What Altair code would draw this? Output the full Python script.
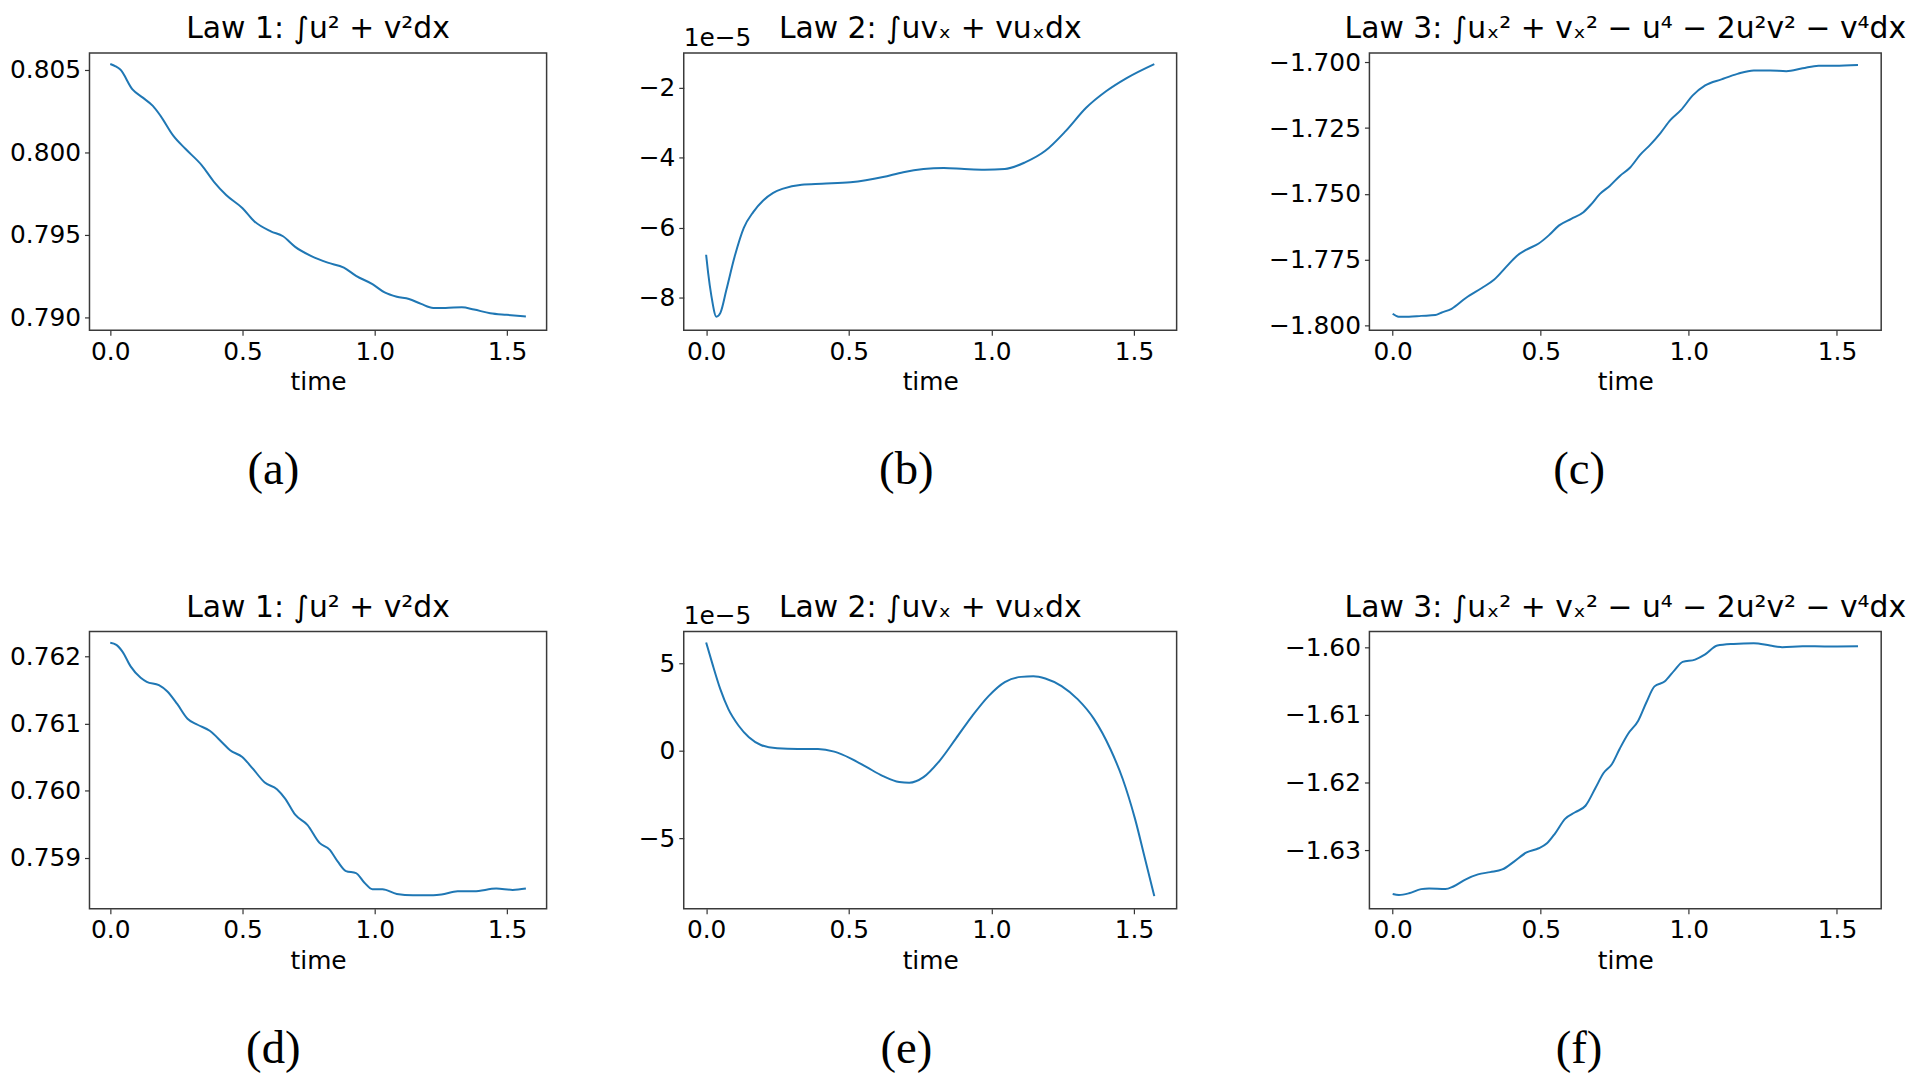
import altair as alt
import pandas as pd

FONT = "DejaVu Sans"
BLUE = "#1f77b4"
H = 279
CAP_Y = 420

X_DOMAIN = [-0.0785, 1.6493]
X_TICKS = [0.0, 0.5, 1.0, 1.5]

# ---- data ----
a_t = [0, 0.02, 0.038, 0.084, 0.123, 0.161, 0.19, 0.238, 0.284, 0.346, 0.392, 0.438, 0.5, 0.545,
       0.607, 0.653, 0.699, 0.76, 0.822, 0.883, 0.929, 0.991, 1.037, 1.083, 1.129, 1.175, 1.221,
       1.267, 1.329, 1.375, 1.436, 1.498, 1.571]
a_v = [0.80534, 0.80520, 0.80500, 0.80380, 0.80330, 0.80280, 0.80220, 0.80100, 0.80020, 0.79920,
       0.79820, 0.79740, 0.79660, 0.79580, 0.79520, 0.79490, 0.79426, 0.79370, 0.79330, 0.79300,
       0.79250, 0.79200, 0.79150, 0.79124, 0.79110, 0.79080, 0.79056, 0.79056, 0.79060, 0.79046,
       0.79024, 0.79014, 0.79004]

b_t = [0, 0.007, 0.0185, 0.036, 0.05, 0.071, 0.1, 0.132, 0.165, 0.2, 0.235, 0.27, 0.335, 0.406,
       0.506, 0.62, 0.691, 0.762, 0.833, 0.905, 0.976, 1.047, 1.118, 1.189, 1.261, 1.332, 1.403,
       1.474, 1.571]
b_v = [-6.77, -7.29, -7.95, -8.54, -8.43, -7.77, -6.82, -6.0, -5.55, -5.22, -5.0, -4.88, -4.77,
       -4.74, -4.70, -4.55, -4.41, -4.32, -4.29, -4.32, -4.34, -4.32, -4.13, -3.80, -3.23, -2.57,
       -2.09, -1.72, -1.32]

c_t = [0, 0.02, 0.055, 0.096, 0.144, 0.164, 0.199, 0.247, 0.301, 0.342, 0.384, 0.418, 0.452,
       0.493, 0.527, 0.562, 0.603, 0.644, 0.671, 0.699, 0.733, 0.767, 0.801, 0.836, 0.870, 0.904,
       0.938, 0.973, 1.014, 1.055, 1.110, 1.164, 1.219, 1.274, 1.329, 1.384, 1.438, 1.493, 1.571]
c_v = [-1.7956, -1.7967, -1.7967, -1.7964, -1.7961, -1.7952, -1.7937, -1.7896, -1.7858, -1.7827,
       -1.7777, -1.7737, -1.7712, -1.7689, -1.7658, -1.7620, -1.7595, -1.7570, -1.7539, -1.7501,
       -1.7470, -1.7432, -1.7401, -1.7351, -1.7313, -1.7269, -1.7219, -1.7182, -1.7125, -1.7088,
       -1.7065, -1.7044, -1.7031, -1.7031, -1.7034, -1.7023, -1.7013, -1.7013, -1.7010]

d_t = [0, 0.023, 0.046, 0.077, 0.115, 0.138, 0.184, 0.215, 0.253, 0.292, 0.33, 0.376, 0.422,
       0.453, 0.499, 0.538, 0.584, 0.63, 0.661, 0.699, 0.745, 0.791, 0.829, 0.86, 0.891, 0.929,
       0.96, 0.991, 1.029, 1.083, 1.144, 1.221, 1.252, 1.313, 1.375, 1.459, 1.521, 1.571]
d_v = [0.76220, 0.76217, 0.76207, 0.76185, 0.76168, 0.76162, 0.76157, 0.76148, 0.76129, 0.76107,
       0.76098, 0.76089, 0.76072, 0.76060, 0.76050, 0.76033, 0.76012, 0.76002, 0.75988, 0.75964,
       0.75949, 0.75922, 0.75912, 0.75894, 0.75880, 0.75877, 0.75863, 0.75853, 0.75853, 0.75846,
       0.75844, 0.75844, 0.75845, 0.75850, 0.75850, 0.75854, 0.75852, 0.75854]

e_t = [0, 0.021, 0.05, 0.078, 0.114, 0.15, 0.192, 0.249, 0.321, 0.392, 0.449, 0.506, 0.563, 0.62,
       0.677, 0.712, 0.762, 0.819, 0.876, 0.933, 0.99, 1.047, 1.104, 1.147, 1.189, 1.246, 1.303,
       1.36, 1.417, 1.46, 1.503, 1.538, 1.571]
e_v = [6.21, 5.04, 3.52, 2.39, 1.44, 0.78, 0.34, 0.15, 0.11, 0.11, -0.04, -0.42, -0.93, -1.44,
       -1.78, -1.82, -1.50, -0.55, 0.72, 2.01, 3.14, 3.94, 4.24, 4.28, 4.15, 3.71, 2.95, 1.82, 0.11,
       -1.59, -3.86, -6.14, -8.31]

f_t = [0, 0.021, 0.055, 0.096, 0.123, 0.178, 0.205, 0.247, 0.288, 0.329, 0.37, 0.411, 0.452,
       0.493, 0.521, 0.548, 0.582, 0.616, 0.651, 0.685, 0.712, 0.74, 0.767, 0.795, 0.829, 0.856,
       0.884, 0.918, 0.952, 0.979, 1.021, 1.055, 1.096, 1.151, 1.219, 1.274, 1.315, 1.384, 1.466,
       1.571]
f_v = [-1.63642, -1.63657, -1.63632, -1.63570, -1.63560, -1.63570, -1.63531, -1.63425, -1.63353,
       -1.63319, -1.63280, -1.63160, -1.63029, -1.62967, -1.62894, -1.62750, -1.62533, -1.62436,
       -1.62340, -1.62074, -1.61857, -1.61727, -1.61495, -1.61278, -1.61085, -1.60820, -1.60579,
       -1.60507, -1.60338, -1.60217, -1.60183, -1.60106, -1.59976, -1.59952, -1.59942, -1.59976,
       -1.60000, -1.59986, -1.59990, -1.59986]

TITLE1 = "Law 1: ∫u² + v²dx"
TITLE2 = "Law 2: ∫uvₓ + vuₓdx"
TITLE3 = "Law 3: ∫uₓ² + vₓ² − u⁴ − 2u²v² − v⁴dx"

a_yticks = [0.790, 0.795, 0.800, 0.805]
b_yticks = [-8, -6, -4, -2]
c_yticks = [-1.800, -1.775, -1.750, -1.725, -1.700]
d_yticks = [0.759, 0.760, 0.761, 0.762]
e_yticks = [-5, 0, 5]
f_yticks = [-1.63, -1.62, -1.61, -1.60]

W_LEFT, W_MID, W_RIGHT = 460, 496, 515
GAP1, GAP2 = 138, 194


def label(txt, x, y, size, font=FONT, align="center", baseline="alphabetic"):
    return alt.Chart(pd.DataFrame({"c": [txt]})).mark_text(
        font=font, fontSize=size, align=align, baseline=baseline, color="black"
    ).encode(text="c:N", x=alt.value(x), y=alt.value(y))


def panel(t, v, title, ydomain, yticks, yfmt, width, caption, cap_x, offset_text=None):
    df = pd.DataFrame({"t": t, "v": v})
    line = alt.Chart(df).mark_line(color=BLUE, strokeWidth=2, interpolate="monotone").encode(
        x=alt.X("t:Q", scale=alt.Scale(domain=X_DOMAIN, nice=False, zero=False),
                axis=alt.Axis(values=X_TICKS, format=".1f", title="time",
                              labelFlush=False, labelOverlap=False)),
        y=alt.Y("v:Q", scale=alt.Scale(domain=ydomain, nice=False, zero=False),
                axis=alt.Axis(values=yticks, format=yfmt, title=None, labelOverlap=False)),
    )
    layers = [
        line,
        label(title, width / 2, -15, 30),
        label(caption, cap_x, CAP_Y, 47, font="Liberation Serif", baseline="middle"),
    ]
    if offset_text:
        layers.append(label(offset_text, 0, -7, 25, align="left"))
    return alt.layer(*layers).properties(width=width, height=H)


def spacer(w):
    return alt.Chart(pd.DataFrame({"s": [0]})).mark_point(opacity=0).encode(
        x=alt.X("s:Q", axis=None), y=alt.Y("s:Q", axis=None)
    ).properties(width=w, height=H, view=alt.ViewBackground(stroke="transparent"))


pa = panel(a_t, a_v, TITLE1, [0.7892, 0.8060], a_yticks, ".3f", W_LEFT, "(a)", 185)
pb = panel(b_t, b_v, TITLE2, [-8.93, -1.007], b_yticks, "d", W_MID, "(b)", 224, "1e−5")
pc = panel(c_t, c_v, TITLE3, [-1.8019, -1.6965], c_yticks, ".3f", W_RIGHT, "(c)", 211)
pd_ = panel(d_t, d_v, TITLE1, [0.75824, 0.76237], d_yticks, ".3f", W_LEFT, "(d)", 185)
pe = panel(e_t, e_v, TITLE2, [-9.03, 6.84], e_yticks, "d", W_MID, "(e)", 224, "1e−5")
pf = panel(f_t, f_v, TITLE3, [-1.63859, -1.59768], f_yticks, ".2f", W_RIGHT, "(f)", 211)

chart = alt.concat(
    pa, spacer(GAP1), pb, spacer(GAP2), pc,
    pd_, spacer(GAP1), pe, spacer(GAP2), pf,
    columns=5,
    spacing=alt.RowColnumber(row=303, column=0),
    bounds="flush",
).properties(
    padding={"left": 0, "top": 2, "right": 5, "bottom": 2},
    background="white",
).configure_view(
    stroke="#3a3a3a", strokeWidth=1.5
).configure_axis(
    labelFont=FONT, labelFontSize=25, labelColor="black",
    titleFont=FONT, titleFontSize=25, titleFontWeight="normal", titleColor="black",
    domain=False, grid=False, tickColor="#333333", tickSize=5, tickWidth=1.2,
    labelPadding=4, titlePadding=6,
)

chart.save("out.html", embed_options={"renderer": "svg", "actions": False})
